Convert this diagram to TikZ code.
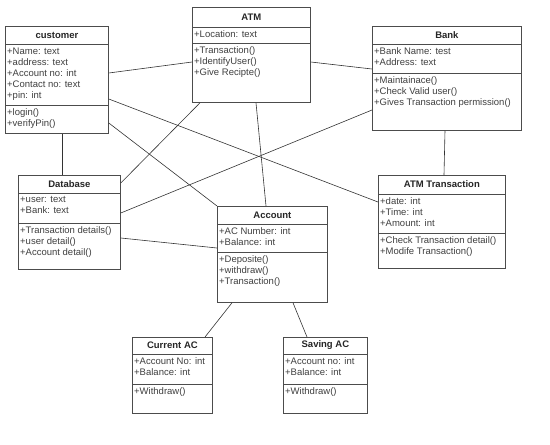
\documentclass[tikz,border=0pt]{standalone}
\usepackage{fontspec}
\setmainfont{Liberation Sans}
\usetikzlibrary{calc,positioning}

\tikzset{
  classbox/.style = {draw=black!70, thick, fill=white, anchor=north west, inner sep=0pt},
  classtitle/.style = {font=\fontsize{9.5}{11}\selectfont\bfseries, text=black!85, inner sep=0pt},
  members/.style = {anchor=north west, align=left, inner xsep=2pt, inner ysep=3.5pt,
    font=\fontsize{9.5}{11}\selectfont, text=black!75},
  sepline/.style = {draw=black!70, thick},
  assoc/.style = {draw=black!80, semithick}
}

% name, corner, width, height, title, title height, attr sep, attributes, operations
\newcommand{\umlclass}[9]{%
  \node[classbox, minimum width=#3, minimum height=#4] (#1) at (#2) {};
  \node[classtitle] (#1-title) at ([yshift=-#6/2]#1.north) {#5};
  \draw[sepline] ([yshift=-#6]#1.north west) -- ([yshift=-#6]#1.north east);
  \draw[sepline] ([yshift=-#7]#1.north west) -- ([yshift=-#7]#1.north east);
  \node[members] (#1-attr) at ([yshift=-#6]#1.north west) {#8};
  \node[members] (#1-ops) at ([yshift=-#7]#1.north west) {#9};
}

\begin{document}
\begin{tikzpicture}[x=1pt,y=-1pt]
  \useasboundingbox (0,0) rectangle (550,445);

  \umlclass{cust}{5,26}{103}{107}{customer}{18}{79}
    {+Name: text\\+address: text\\+Account no: int\\+Contact no: text\\+pin: int}
    {+login()\\+verifyPin()}
  \umlclass{atm}{192,7}{118}{95}{ATM}{20}{36}
    {+Location: text}
    {+Transaction()\\+IdentifyUser()\\+Give Recipte()}
  \umlclass{bank}{372,26}{149}{104}{Bank}{18}{47}
    {+Bank Name: test\\+Address: text}
    {+Maintainace()\\+Check Valid user()\\+Gives Transaction permission()}
  \umlclass{db}{18,175}{102}{94}{Database}{18}{48}
    {+user: text\\+Bank: text}
    {+Transaction details()\\+user detail()\\+Account detail()}
  \umlclass{acc}{217,206}{110}{96}{Account}{18}{46}
    {+AC Number: int\\+Balance: int}
    {+Deposite()\\+withdraw()\\+Transaction()}
  \umlclass{trans}{378,175}{127}{93}{ATM Transaction}{19}{58}
    {+date: int\\+Time: int\\+Amount: int}
    {+Check Transaction detail()\\+Modife Transaction()}
  \umlclass{cur}{132,337}{80}{76}{Current AC}{17}{47}
    {+Account No: int\\+Balance: int}
    {+Withdraw()}
  \umlclass{sav}{283,337}{84}{76}{Saving AC}{17}{47}
    {+Account no: int\\+Balance: int}
    {+Withdraw()}

  % associations
  \draw[assoc] (cust.east |- 0,73) -- (atm.west |- 0,62);
  \draw[assoc] (atm.east |- 0,62) -- (bank.west |- 0,69);
  \draw[assoc] (cust.east |- 0,99) -- (trans.west |- 0,202);
  \draw[assoc] (cust.east |- 0,123) -- (acc.north west);
  \draw[assoc] (atm.south -| 200,0) -- (db.east |- 0,183);
  \draw[assoc] (atm.south -| 256,0) -- (acc.north -| 266,0);
  \draw[assoc] (bank.west |- 0,110) -- (db.east |- 0,213);
  \draw[assoc] (db.east |- 0,238) -- (acc.west |- 0,248);
  \draw[assoc] (cust.south -| 62,0) -- (db.north -| 62,0);
  \draw[assoc] (bank.south -| 445,0) -- (trans.north -| 444,0);
  \draw[assoc] (acc.south -| 232,0) -- (cur.north -| 205,0);
  \draw[assoc] (acc.south -| 293,0) -- (sav.north -| 307,0);
\end{tikzpicture}
\end{document}
